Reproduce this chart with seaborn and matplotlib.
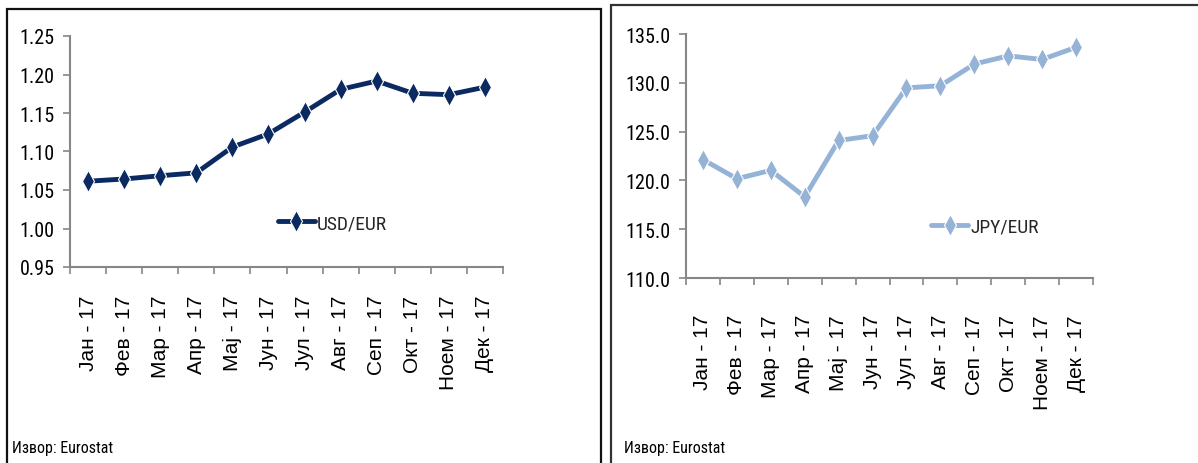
import numpy as np
import pandas as pd
import matplotlib
matplotlib.use("Agg")
import matplotlib.pyplot as plt
import seaborn as sns
from matplotlib.patches import Rectangle
from matplotlib.ticker import FormatStrFormatter, FixedLocator

months = ["Јан - 17", "Фев - 17", "Мар - 17", "Апр - 17", "Мај - 17", "Јун - 17",
          "Јул - 17", "Авг - 17", "Сеп - 17", "Окт - 17", "Ноем - 17", "Дек - 17"]
usd_eur = [1.0614, 1.0643, 1.0685, 1.0723, 1.1058, 1.1229,
           1.1511, 1.1807, 1.1915, 1.1756, 1.1738, 1.1836]
jpy_eur = [122.14, 120.17, 121.03, 118.32, 124.09, 124.58,
           129.48, 129.70, 131.92, 132.76, 132.39, 133.64]
usd_ticks = [0.95, 1.00, 1.05, 1.10, 1.15, 1.20, 1.25]
jpy_ticks = [110.0, 115.0, 120.0, 125.0, 130.0, 135.0]
source = "Извор: Eurostat"

sns.set_theme(style="white")
plt.rcParams["font.family"] = ["Liberation Sans", "DejaVu Sans"]
NARROW = ["Roboto Condensed", "DejaVu Sans"]

W, H = 1198, 464
fig = plt.figure(figsize=(W / 100, H / 100), dpi=100)
fig.patch.set_facecolor("white")

def fx(px):
    return px / W

def fy(py):
    return 1 - py / H

# panel frames
fig.patches.append(Rectangle((fx(7), fy(470)), fx(601 - 7), (470 - 10) / H,
                             transform=fig.transFigure, fill=False,
                             edgecolor="#111111", linewidth=1.6))
fig.patches.append(Rectangle((fx(611), fy(470)), fx(1210 - 611), (470 - 6) / H,
                             transform=fig.transFigure, fill=False,
                             edgecolor="#333333", linewidth=1.6))

df = pd.DataFrame({"pos": np.arange(len(months)), "month": months,
                   "USD/EUR": usd_eur, "JPY/EUR": jpy_eur})

def setup(ax, ticks, fmt, xpad, ypad):
    ax.set_xlim(-0.5, len(months) - 0.5)
    ax.set_ylim(ticks[0], ticks[-1])
    ax.yaxis.set_major_locator(FixedLocator(ticks))
    ax.yaxis.set_major_formatter(FormatStrFormatter(fmt))
    ax.set_xticks(np.arange(len(months)))
    ax.set_xticklabels(months, rotation=90, fontsize=15, color="black",
                       family=["Liberation Sans", "DejaVu Sans"])
    ax.set_xticks(np.arange(len(months) + 1) - 0.5, minor=True)
    ax.tick_params(axis="x", which="major", length=0, pad=xpad)
    ax.tick_params(axis="x", which="minor", length=5, width=1.2, color="#868686",
                   direction="out", bottom=True)
    ax.tick_params(axis="y", which="major", length=5, width=1.2, color="#868686",
                   direction="out", left=True, pad=ypad)
    for lab in ax.get_yticklabels():
        lab.set_fontfamily(NARROW)
        lab.set_fontsize(14.5)
        lab.set_color("black")
    for s in ["top", "right"]:
        ax.spines[s].set_visible(False)
    for s in ["left", "bottom"]:
        ax.spines[s].set_color("#868686")
        ax.spines[s].set_linewidth(1.5)
    ax.set_xlabel("")
    ax.set_ylabel("")
    ax.grid(False)
    ax.set_facecolor("none")

# left chart
ax1 = fig.add_axes([fx(70), fy(268), fx(503 - 70), (268 - 37) / H])
sns.lineplot(data=df, x="pos", y="USD/EUR", ax=ax1, color="#0C2A62", linewidth=3.5,
             marker="d", markersize=11, markeredgecolor="white", markeredgewidth=0.8,
             label="USD/EUR", sort=False)
setup(ax1, usd_ticks, "%.2f", 20, 6)
ax1.legend(loc="center left", bbox_to_anchor=(0.44, 0.19), frameon=False,
           handlelength=1.9, handletextpad=0.1,
           prop={"family": NARROW, "size": 14})

# right chart
ax2 = fig.add_axes([fx(686), fy(279), fx(1093 - 686), (279 - 35) / H])
sns.lineplot(data=df, x="pos", y="JPY/EUR", ax=ax2, color="#95B3D7", linewidth=3.5,
             marker="d", markersize=11, markeredgecolor="white", markeredgewidth=0.8,
             label="JPY/EUR", sort=False)
setup(ax2, jpy_ticks, "%.1f", 26, 6)
ax2.legend(loc="center left", bbox_to_anchor=(0.56, 0.21), frameon=False,
           handlelength=1.9, handletextpad=0.1,
           prop={"family": NARROW, "size": 14})

fig.text(fx(12), fy(449), source, fontsize=11.5, family=NARROW,
         ha="left", va="center", color="black")
fig.text(fx(624), fy(449), source, fontsize=11.5, family=NARROW,
         ha="left", va="center", color="black")

fig.savefig("out.png", dpi=100, facecolor="white")
